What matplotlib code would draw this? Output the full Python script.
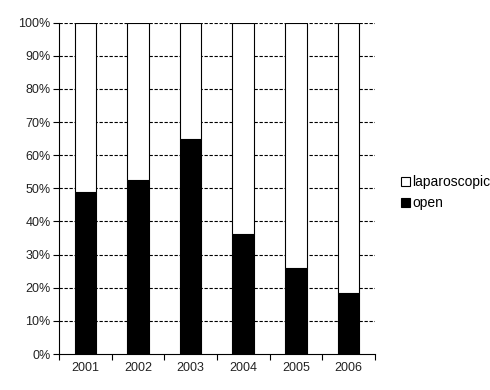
import matplotlib
matplotlib.use("Agg")
import matplotlib.pyplot as plt
from matplotlib.patches import Patch
import numpy as np

years = ["2001", "2002", "2003", "2004", "2005", "2006"]
open_pct = [48.9, 52.5, 64.9, 36.2, 26.0, 18.4]
lap_pct = [100 - v for v in open_pct]
yticks = [0, 10, 20, 30, 40, 50, 60, 70, 80, 90, 100]

plt.rcParams['font.family'] = ['Liberation Sans', 'DejaVu Sans']
fig = plt.figure(figsize=(4.9, 3.9), dpi=100)
ax = fig.add_axes([0.1204, 0.0923, 0.6446, 0.8497])

x = np.arange(len(years))
w = 0.41
ax.bar(x, open_pct, w, color='black', edgecolor='black', linewidth=0.8, zorder=3, label='open')
ax.bar(x, lap_pct, w, bottom=open_pct, color='white', edgecolor='black', linewidth=0.8, zorder=3, label='laparoscopic')

ax.set_xlim(-0.5, len(years) - 0.5)
ax.set_ylim(0, 100)
ax.set_yticks(yticks)
ax.set_yticklabels([f"{v}%" for v in yticks], fontsize=9, color='#222222')
ax.set_xticks(x)
ax.set_xticklabels(years, fontsize=9, color='#222222')
ax.tick_params(axis='x', length=0, pad=6)
ax.set_xticks(np.arange(-0.5, len(years)), minor=True)
ax.tick_params(axis='x', which='minor', length=4, width=0.8, direction='out')
ax.tick_params(axis='y', length=4, width=0.8, direction='out', pad=2)

for v in yticks[1:]:
    ax.axhline(v, color='black', linestyle=(0, (3, 1.5)), linewidth=0.8, zorder=1)

ax.spines['top'].set_visible(False)
ax.spines['right'].set_visible(False)
ax.spines['left'].set_linewidth(0.8)
ax.spines['bottom'].set_linewidth(0.8)

handles = [Patch(facecolor='white', edgecolor='black', linewidth=0.8, label='laparoscopic'),
           Patch(facecolor='black', edgecolor='black', linewidth=0.8, label='open')]
fig.legend(handles=handles, loc='upper left', bbox_to_anchor=(0.808, 0.565),
           frameon=False, fontsize=10, handlelength=0.6, handleheight=0.6,
           handletextpad=0.2, labelspacing=0.5, borderaxespad=0)

fig.savefig("out.png", dpi=100)
